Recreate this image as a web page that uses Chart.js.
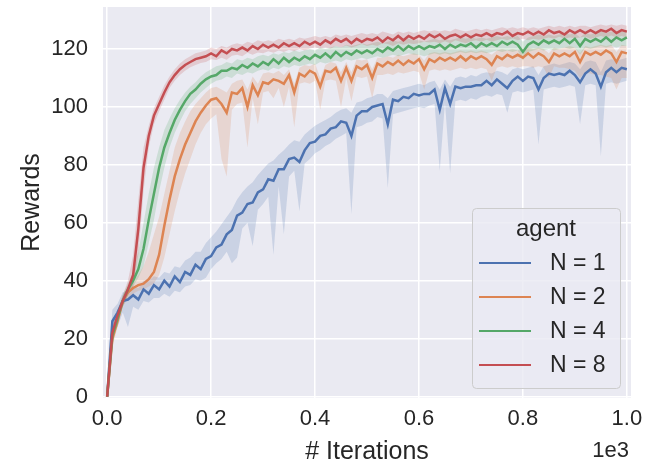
<!DOCTYPE html>
<html>
<head>
<meta charset="utf-8">
<script src="https://cdn.jsdelivr.net/npm/chart.js"></script>
<style>
  html, body { margin: 0; padding: 0; background: #fff; }
  canvas { display: block; }
</style>
</head>
<body>
<canvas id="rewards" width="651" height="467"></canvas>
<script>
// training iterations (x axis, shown in units of 1e3)
const iterations = [
  0, 10, 20, 30, 40, 50, 60, 70, 80, 90, 100,
  110, 120, 130, 140, 150, 160, 170, 180, 190, 200,
  210, 220, 230, 240, 250, 260, 270, 280, 290, 300,
  310, 320, 330, 340, 350, 360, 370, 380, 390, 400,
  410, 420, 430, 440, 450, 460, 470, 480, 490, 500,
  510, 520, 530, 540, 550, 560, 570, 580, 590, 600,
  610, 620, 630, 640, 650, 660, 670, 680, 690, 700,
  710, 720, 730, 740, 750, 760, 770, 780, 790, 800,
  810, 820, 830, 840, 850, 860, 870, 880, 890, 900,
  910, 920, 930, 940, 950, 960, 970, 980, 990, 1000
];

const xTicks = [0, 200, 400, 600, 800, 1000];
const yTicks = [0, 20, 40, 60, 80, 100, 120];
const agents = ['N = 1', 'N = 2', 'N = 4', 'N = 8'];

// mean reward per agent count
const rewardsN1 = [
  0, 26, 29, 33, 33.5, 35, 33.5, 37, 35.5, 38.5, 37,
  40, 38, 41.5, 39.5, 43, 42, 45.5, 44, 47.5, 48.5,
  51.5, 52.5, 56, 57.5, 62.5, 63.5, 66.5, 67, 70.5, 71.5,
  75, 74.5, 78.5, 78.5, 82, 82.5, 81, 85, 87.5, 88,
  90, 90.5, 92.5, 93, 95, 94.5, 90, 97, 98.5, 98.5,
  100, 100.5, 101, 94, 102.5, 102, 103.5, 103, 104.5, 104,
  104.5, 104.5, 106, 99, 106.5, 101, 107, 106.5, 107, 107,
  107.5, 107.5, 109, 107.5, 109.5, 108, 106.5, 109, 110.5, 109,
  110.5, 110, 106, 110, 111.5, 111, 111.5, 111, 112.5, 111,
  108.5, 111.5, 113, 111.5, 107, 112, 113.5, 112, 113.5, 113
];
const rewardsN2 = [
  0, 20, 26, 33, 36, 37.5, 38.5, 39, 40.5, 43, 49,
  59, 68, 76, 82, 87, 91, 95, 98, 100.5, 102.5,
  103, 101, 98, 105, 104.5, 106.5, 100, 107.5, 104, 108.5,
  108, 109.5, 109, 108, 111, 105, 111.5, 110.5, 112.5, 111.5,
  107, 112.5, 112, 113.5, 109, 113.5, 109, 114, 113, 114.5,
  110, 115, 114, 115.5, 114.5, 116, 114.5, 116, 115, 116.5,
  113, 116.5, 115.5, 117, 116, 117, 116, 117.5, 116, 117.5,
  116.5, 117.5, 116.5, 114.5, 117.5, 116.5, 118, 117, 118, 117,
  118.5, 117, 118.5, 117.5, 115.5, 118.5, 117.5, 118.5, 117.5, 119,
  115.5, 119, 118, 119, 118, 119.5, 118.5, 115.5, 119, 118.5
];
const rewardsN4 = [
  0, 21, 27, 33, 37, 40, 44, 51, 61, 70, 79,
  86, 91, 95.5, 99, 102, 104.5, 106, 108, 109.5, 110.5,
  111, 112.5, 112.5, 113.5, 113, 114.5, 113.5, 115, 114, 115.5,
  114.5, 116.5, 115, 117, 115.5, 117, 116, 117.5, 116.5, 118,
  117, 118.5, 117, 119, 117.5, 119, 118, 119.5, 118.5, 119.5,
  118.5, 120, 119, 120.5, 119.5, 121, 119.5, 121, 120, 121,
  120, 121, 120.5, 121.5, 120, 121.5, 120.5, 121.5, 121, 122,
  120.5, 122, 121, 122, 121, 122.5, 121.5, 122.5, 121.5, 119,
  121.5, 122.5, 121.5, 123, 122, 123, 122, 123.5, 122, 123.5,
  121, 123.5, 122.5, 123.5, 122.5, 124, 122.5, 124, 123, 124
];
const rewardsN8 = [
  0, 22, 28, 33, 37, 42, 58, 79, 90, 97, 101,
  105, 108.5, 111, 113, 114.5, 115.5, 116.5, 117, 117.5, 118.5,
  117.5, 119.5, 118.5, 120, 119.5, 120.5, 119.5, 121, 120, 121.5,
  120.5, 121.5, 120.5, 122, 121, 122, 121, 122.5, 121.5, 122.5,
  121.5, 123, 122, 123.5, 122.5, 123.5, 122, 123.5, 122.5, 123.5,
  123, 124, 122.5, 124, 123, 124.5, 123, 124.5, 123.5, 124.5,
  123.5, 125, 124, 125, 123.5, 124.5, 125, 124, 125, 124,
  125, 124.5, 125.5, 124.5, 125.5, 125, 126, 124.5, 125.5, 125,
  126, 125, 126, 125, 126.5, 125.5, 126, 125, 126.5, 125.5,
  126.5, 125.5, 126.5, 125.5, 126.5, 126, 127, 125.5, 126.5, 126
];

// lower / upper edge of the confidence band
const lowN1 = [
  0, 22, 24, 29, 24, 31, 30, 33, 32.5, 34, 34,
  35.5, 34.5, 36.5, 36, 38, 38.5, 40.5, 40, 41, 44,
  46, 47.5, 50, 46, 48, 58, 60, 52, 64.5, 66.5,
  69, 49, 72.5, 56, 76, 78, 64, 80.5, 82, 84,
  85, 86.5, 87.5, 89, 90, 91, 63, 93, 93.5, 94.5,
  95, 96.5, 96, 72, 97.5, 98, 98.5, 99, 99.5, 100,
  99.5, 100.5, 101, 78, 101.5, 77, 102, 102.5, 102, 103,
  102.5, 103.5, 104, 103.5, 104.5, 104, 98, 105, 105.5, 105,
  105.5, 106, 87, 106, 106.5, 107, 106.5, 107, 107.5, 107,
  94, 107.5, 108, 107.5, 83, 108, 108.5, 108, 108.5, 109
];
const highN1 = [
  0, 30, 32, 36, 36.5, 38, 37.5, 40, 40, 41.5, 41,
  43, 42.5, 45, 44.5, 47, 48, 50, 50, 53, 55,
  57, 59.5, 62, 64.5, 68, 70.5, 72.5, 74, 76.5, 78.5,
  80.5, 81.5, 83.5, 85, 87, 88.5, 88, 90.5, 92, 93.5,
  94.5, 95.5, 96.5, 98, 99, 99.5, 98, 101.5, 102, 103,
  103.5, 104.5, 104.5, 103, 105.5, 106, 106.5, 107, 107.5, 108,
  107.5, 108.5, 109, 106, 109.5, 107, 110, 110.5, 110, 111,
  110.5, 111.5, 112, 111.5, 112.5, 112, 111, 113, 113.5, 113,
  113.5, 114, 111, 114, 114.5, 115, 114.5, 115, 115.5, 115,
  113, 115.5, 116, 115.5, 112, 116, 116.5, 116, 116.5, 117
];
const lowN2 = [
  0, 17, 24, 31, 34, 35.5, 36.5, 37, 38, 39, 42,
  48, 56, 64, 71, 77, 82, 87, 91, 94, 96,
  97.5, 82, 76, 99, 101, 101.5, 86, 103, 94, 105,
  105.5, 103, 106.5, 100, 107, 93, 108, 108.5, 108, 109,
  99, 109, 109.5, 109, 100, 110, 102, 110.5, 110, 110.5,
  103, 111, 111, 111.5, 111, 112, 111.5, 112, 112.5, 112,
  106, 112.5, 113, 112.5, 113, 112.5, 113, 113.5, 113, 113.5,
  113, 113.5, 113, 109, 113.5, 114, 113.5, 114, 113.5, 114,
  114, 113.5, 114, 113.5, 110, 114, 113.5, 113.5, 113, 112.5,
  110, 112, 111.5, 111, 111, 110.5, 110, 106, 110, 110
];
const highN2 = [
  0, 23, 28, 35, 38, 40, 42, 45, 50, 56, 62,
  70, 78, 86, 91, 95, 98.5, 101, 103, 105, 106.5,
  107, 106, 105, 108, 109, 109.5, 106, 110.5, 108, 111.5,
  112, 111.5, 112.5, 111, 113, 108, 113.5, 114.5, 114, 115,
  110, 114.5, 115.5, 115, 112, 115.5, 112, 116.5, 116, 116.5,
  113, 117, 117, 117.5, 117, 118, 117.5, 118, 118.5, 118,
  116, 118.5, 119, 118.5, 119, 118.5, 119, 119.5, 119, 119.5,
  119, 119.5, 119, 118, 119.5, 120, 119.5, 120, 119.5, 120,
  120.5, 120, 120.5, 120, 118.5, 120.5, 120, 120.5, 121, 120.5,
  118.5, 121, 120.5, 121, 121.5, 121, 121.5, 119, 121.5, 121
];
const lowN4 = [
  0, 18, 25, 31, 35, 38, 41, 45, 53, 61, 71,
  79, 86, 91, 95, 98.5, 101, 103, 105, 106.5, 108,
  109, 109.5, 110.5, 110, 111.5, 111, 112, 111.5, 112.5, 113,
  112.5, 113.5, 113, 114, 113.5, 114.5, 114, 114.5, 115, 114.5,
  115.5, 115, 115.5, 116, 115.5, 116.5, 116, 116.5, 117, 116.5,
  117, 117.5, 117, 117.5, 118, 117.5, 118, 118.5, 118, 118,
  117.5, 118, 118.5, 118, 118.5, 118, 118.5, 119, 118.5, 119,
  118.5, 119, 118.5, 119, 119.5, 119, 119.5, 119, 119.5, 116,
  119, 119.5, 120, 119.5, 120, 119.5, 120, 120.5, 120, 120.5,
  118, 120.5, 120, 120.5, 121, 120.5, 121, 120.5, 121, 121
];
const highN4 = [
  0, 24, 29, 35, 39, 43, 50, 60, 70, 79, 86,
  92, 96, 99.5, 102.5, 105, 107, 108.5, 110.5, 112, 113,
  114, 114.5, 115.5, 115, 116.5, 116, 117, 116.5, 117.5, 118,
  117.5, 118.5, 118, 119, 118.5, 119.5, 119, 119.5, 120, 119.5,
  120.5, 120, 120.5, 121, 120.5, 121.5, 121, 121.5, 122, 121.5,
  122, 122.5, 122, 122.5, 123, 122.5, 123, 123.5, 123, 123,
  122.5, 123, 123.5, 123, 123.5, 123, 123.5, 124, 123.5, 124,
  123.5, 124, 123.5, 124, 124.5, 124, 124.5, 124, 124.5, 122.5,
  124, 124.5, 125, 124.5, 125, 124.5, 125, 125.5, 125, 125.5,
  124, 125.5, 125, 125.5, 126, 125.5, 126, 125.5, 126, 126
];
const lowN8 = [
  0, 19, 26, 31, 35, 38, 49, 71, 86, 94, 98.5,
  102.5, 106.5, 109, 111, 112.5, 113.7, 114.5, 115.2, 115.5, 116.5,
  116.2, 117, 116.3, 117.7, 118, 117.5, 118.7, 118, 118.8, 118.5,
  119.2, 118.7, 119.5, 119, 119.7, 119.2, 120, 119.5, 120.2, 120.5,
  120.2, 120.5, 120.2, 121, 120.5, 121.2, 120.5, 121, 121.7, 121,
  121.5, 121, 122, 121.7, 121, 122, 121.5, 122, 121.7, 122,
  122.5, 122.2, 122.5, 122, 122.7, 122, 123, 122.5, 122, 122.7,
  123, 122.5, 123.2, 122.5, 123, 123.5, 123, 123.7, 123, 123.5,
  123, 123.5, 123.2, 123.5, 124, 123.5, 124.2, 123.5, 124, 123.7,
  124, 124.2, 123.5, 124, 124.5, 124, 124.7, 124, 124.5, 124
];
const highN8 = [
  0, 25, 30, 35, 40, 49, 68, 86, 93.5, 99.5, 103.5,
  107.5, 110.5, 113, 115, 116.5, 117.5, 118.5, 119, 119.5, 120.5,
  120, 121, 120.5, 121.5, 122, 121.5, 122.5, 122, 123, 122.5,
  123, 122.5, 123.5, 123, 123.5, 123, 124, 123.5, 124, 124.5,
  124, 124.5, 124, 125, 124.5, 125, 124.5, 125, 125.5, 125,
  125.5, 125, 126, 125.5, 125, 126, 125.5, 126, 125.5, 126,
  126.5, 126, 126.5, 126, 126.5, 126, 127, 126.5, 126, 126.5,
  127, 126.5, 127, 126.5, 127, 127.5, 127, 127.5, 127, 127.5,
  127, 127.5, 127, 127.5, 128, 127.5, 128, 127.5, 128, 127.5,
  128, 128, 127.5, 128, 128.5, 128, 128.5, 128, 128.5, 128
];

const palette = ['#4C72B0', '#DD8452', '#55A868', '#C44E52'];
const bandFill = ['rgba(76,114,176,0.2)', 'rgba(221,132,82,0.2)',
                  'rgba(85,168,104,0.2)', 'rgba(196,78,82,0.2)'];
const means = [rewardsN1, rewardsN2, rewardsN4, rewardsN8];
const lows = [lowN1, lowN2, lowN4, lowN8];
const highs = [highN1, highN2, highN4, highN8];

const FONT = "'Liberation Sans', Arial, sans-serif";
const INK = '#262626';

const toPoints = arr => iterations.map((it, i) => ({ x: it, y: arr[i] }));

const datasets = [];
// bands first (lower edge, then upper edge filled down to it)
agents.forEach((name, k) => {
  datasets.push({
    label: name + ' low', data: toPoints(lows[k]), isBand: true,
    borderWidth: 0, pointRadius: 0, fill: false, order: 13 - k
  });
  datasets.push({
    label: name + ' high', data: toPoints(highs[k]), isBand: true,
    borderWidth: 0, pointRadius: 0, fill: '-1',
    backgroundColor: bandFill[k], order: 13 - k
  });
});
agents.forEach((name, k) => {
  datasets.push({
    label: name, data: toPoints(means[k]),
    borderColor: palette[k], borderWidth: 2.5, pointRadius: 0,
    fill: false, tension: 0, order: 3 - k
  });
});

const plotBackground = {
  id: 'plotBackground',
  beforeDraw(chart) {
    const { ctx, chartArea: a } = chart;
    ctx.save();
    ctx.fillStyle = '#EAEAF2';
    ctx.fillRect(a.left, a.top, a.right - a.left, a.bottom - a.top);
    ctx.restore();
  }
};

// seaborn-style legend in the lower right corner plus the x offset text
const agentLegend = {
  id: 'agentLegend',
  afterDraw(chart) {
    const { ctx, chartArea: a } = chart;
    const w = 148, h = 180;
    const x0 = a.right - 11 - w, y0 = a.bottom - 10 - h;
    ctx.save();
    ctx.beginPath();
    ctx.roundRect(x0 + 0.5, y0 + 0.5, w, h, 4);
    ctx.fillStyle = 'rgba(234,234,242,0.8)';
    ctx.fill();
    ctx.strokeStyle = '#CCCCCC';
    ctx.lineWidth = 1;
    ctx.stroke();

    ctx.fillStyle = INK;
    ctx.textBaseline = 'middle';
    ctx.textAlign = 'center';
    ctx.font = '24px ' + FONT;
    ctx.fillText('agent', x0 + w / 2, y0 + 21);

    ctx.textAlign = 'left';
    ctx.font = '23px ' + FONT;
    chart.data.datasets.filter(d => !d.isBand).forEach((d, i) => {
      const y = y0 + 55 + i * 34;
      ctx.strokeStyle = d.borderColor;
      ctx.lineWidth = 2;
      ctx.beginPath();
      ctx.moveTo(x0 + 7, y);
      ctx.lineTo(x0 + 59, y);
      ctx.stroke();
      ctx.fillText(d.label, x0 + 78, y + 1);
    });

    ctx.textAlign = 'right';
    ctx.font = '22px ' + FONT;
    ctx.fillText('1e3', a.right - 2, 451);
    ctx.restore();
  }
};

new Chart(document.getElementById('rewards').getContext('2d'), {
  type: 'line',
  data: { datasets },
  plugins: [plotBackground, agentLegend],
  options: {
    responsive: false,
    animation: false,
    events: [],
    layout: { padding: { left: 0, right: 20, top: 7, bottom: 0 } },
    plugins: { legend: { display: false }, tooltip: { enabled: false } },
    scales: {
      x: {
        type: 'linear', min: -8, max: 1008,
        afterBuildTicks: s => { s.ticks = xTicks.map(v => ({ value: v })); },
        afterFit: s => { s.height = 69; s.paddingLeft = 0; s.paddingRight = 0; },
        grid: { color: '#FFFFFF', lineWidth: 1.5, drawTicks: false },
        border: { display: false },
        ticks: {
          padding: 8, color: INK, font: { family: FONT, size: 22 },
          maxRotation: 0,
          callback: v => (v / 1000).toFixed(1)
        },
        title: {
          display: true, text: '# Iterations', color: INK,
          font: { family: FONT, size: 25 }, padding: { top: 0, bottom: 0 }
        }
      },
      y: {
        min: -0.5, max: 134.5,
        afterBuildTicks: s => { s.ticks = yTicks.map(v => ({ value: v })); },
        afterFit: s => { s.width = 103; s.paddingTop = 0; s.paddingBottom = 0; },
        grid: { color: '#FFFFFF', lineWidth: 1.5, drawTicks: false },
        border: { display: false },
        ticks: { padding: 15, color: INK, font: { family: FONT, size: 22 } },
        title: {
          display: true, text: 'Rewards', color: INK,
          font: { family: FONT, size: 25 }, padding: { top: 17, bottom: 0 }
        }
      }
    }
  }
});
</script>
</body>
</html>
